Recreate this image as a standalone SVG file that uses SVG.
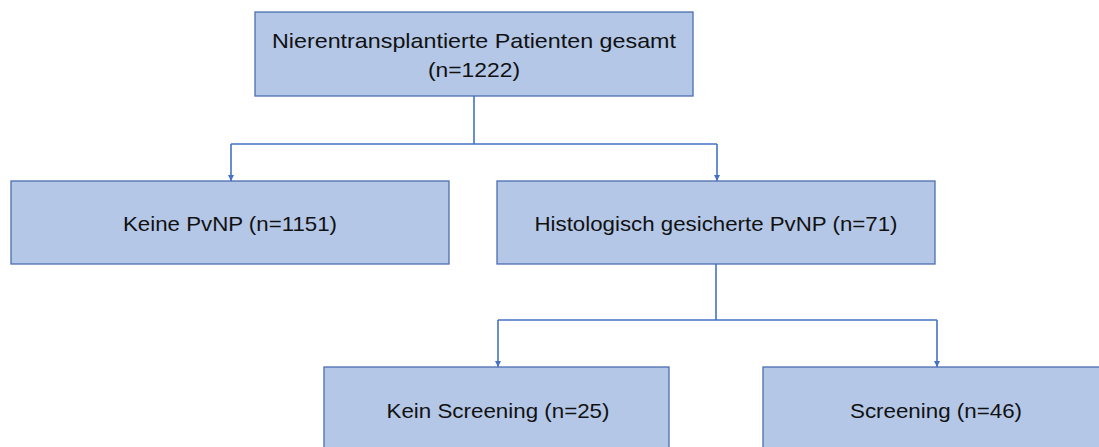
<svg xmlns="http://www.w3.org/2000/svg" width="1099" height="447" viewBox="0 0 1099 447">
<style>
.box{fill:#B4C7E7;stroke:#4A6FB0;stroke-width:1.3}
.t{font-family:"Liberation Sans",Arial,sans-serif;font-size:21px;fill:#111;text-anchor:middle}
.c{fill:none;stroke:#4472C4;stroke-width:1.6}
</style>
<defs>
<marker id="ah" viewBox="0 0 10 10" refX="10" refY="5" markerWidth="4" markerHeight="4" orient="auto" markerUnits="strokeWidth">
<path d="M0,0 L10,5 L0,10 z" fill="#4472C4"/>
</marker>
</defs>
<rect width="1099" height="447" fill="#fff"/>
<g id="connectors">
<path class="c" d="M474,96 V144"/>
<path class="c" d="M231,144 H717"/>
<path class="c" d="M231,144 V181" marker-end="url(#ah)"/>
<path class="c" d="M717,144 V181" marker-end="url(#ah)"/>
<path class="c" d="M716,264 V320"/>
<path class="c" d="M498,320 H937"/>
<path class="c" d="M498,320 V367" marker-end="url(#ah)"/>
<path class="c" d="M937,320 V367" marker-end="url(#ah)"/>
</g>
<g id="n1"><rect class="box" x="255" y="12" width="438" height="84"/>
<text class="t" x="474" y="48" textLength="404" lengthAdjust="spacingAndGlyphs">Nierentransplantierte Patienten gesamt</text>
<text class="t" x="474" y="77" textLength="92" lengthAdjust="spacingAndGlyphs">(n=1222)</text></g>
<g id="n2"><rect class="box" x="11" y="181" width="438" height="83"/>
<text class="t" x="230" y="231" textLength="214" lengthAdjust="spacingAndGlyphs">Keine PvNP (n=1151)</text></g>
<g id="n3"><rect class="box" x="497" y="181" width="438" height="83"/>
<text class="t" x="716" y="231" textLength="363" lengthAdjust="spacingAndGlyphs">Histologisch gesicherte PvNP (n=71)</text></g>
<g id="n4"><rect class="box" x="324" y="367" width="345" height="90"/>
<text class="t" x="498" y="418" textLength="223" lengthAdjust="spacingAndGlyphs">Kein Screening (n=25)</text></g>
<g id="n5"><rect class="box" x="763" y="367" width="345" height="90"/>
<text class="t" x="936" y="418" textLength="172" lengthAdjust="spacingAndGlyphs">Screening (n=46)</text></g>
</svg>
